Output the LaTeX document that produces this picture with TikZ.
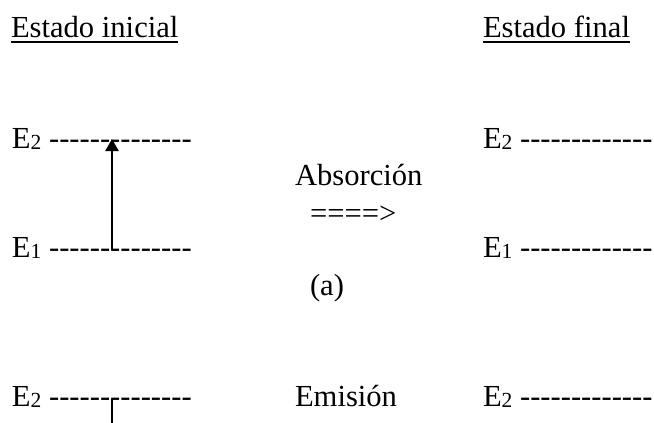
\documentclass[tikz,border=0pt]{standalone}
\usepackage{fontspec}
\setmainfont{Liberation Serif}[Ligatures=TeXOff]
\usepackage{tikz}
\usetikzlibrary{arrows.meta, positioning, calc}
\tikzset{
  txt/.style={anchor=base west, inner sep=0pt, outer sep=0pt, font=\fontsize{30.6}{36}\selectfont},
  uline/.style={line width=2pt},
  jump/.style={line width=2.2pt},
}
\newcommand{\lvl}[1]{E\raisebox{-1pt}{\fontsize{21.5}{22}\selectfont #1}}

\begin{document}
\begin{tikzpicture}[x=1pt, y=-1pt]
  \useasboundingbox (0,0) rectangle (654,423);
  % Headings
  \node[txt] (ini) at (11,37.7) {Estado inicial};
  \node[txt] (fin) at (483,37.7) {Estado final};
  \draw[uline] ([yshift=-4pt]ini.base west) -- ([yshift=-4pt]ini.base east);
  \draw[uline] ([yshift=-4pt]fin.base west) -- ([yshift=-4pt]fin.base east);
  % Levels, left and right
  \node[txt] (ia2) at (12,148) {\lvl{2} --------------};
  \node[txt] (ia1) at (12,257) {\lvl{1} --------------};
  \node[txt] (fa2) at (483,148) {\lvl{2} -------------};
  \node[txt] (fa1) at (483,257) {\lvl{1} -------------};
  \node[txt] (ie2) at (12,406) {\lvl{2} --------------};
  \node[txt] (fe2) at (483,406) {\lvl{2} -------------};
  % Middle texts
  \node[txt] (abs) at (295,185) {Absorción};
  \node[txt] (arr) at (310,223) {====>};
  \node[txt] (cap) at (310,295) {(a)};
  \node[txt] (emi) at (295,406) {Emisión};
  % Transitions
  \coordinate (up-lo) at (112,249);
  \coordinate (up-hi) at (112,139);
  \draw[jump, -{Triangle[length=12pt, width=13pt]}] (up-lo) -- (up-hi);
  \coordinate (dn-hi) at (112,399);
  \coordinate (dn-cut) at (112,423);
  \draw[jump] (dn-hi) -- (dn-cut);
\end{tikzpicture}
\end{document}
